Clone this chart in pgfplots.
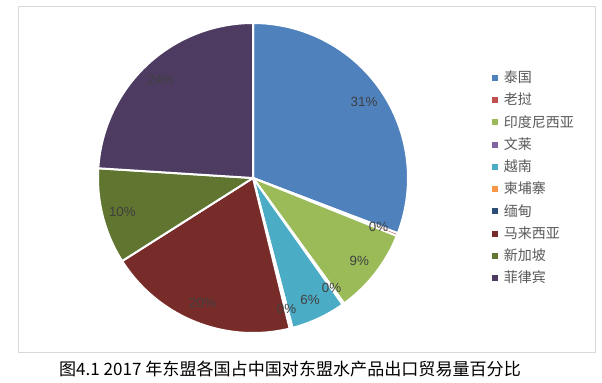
\documentclass[border=0pt]{standalone}
\usepackage{pgfplots}
\pgfplotsset{compat=1.18}
\usepackage{pgfplotstable}
\usepackage{fontspec}
\setmainfont{Liberation Sans}
\newfontfamily\cjk{Noto Sans CJK SC}

\definecolor{s0}{HTML}{4F81BD}
\definecolor{s1}{HTML}{C0504D}
\definecolor{s2}{HTML}{9BBB59}
\definecolor{s3}{HTML}{8064A2}
\definecolor{s4}{HTML}{4BACC6}
\definecolor{s5}{HTML}{F79646}
\definecolor{s6}{HTML}{2C4D75}
\definecolor{s7}{HTML}{772C2A}
\definecolor{s8}{HTML}{5F7530}
\definecolor{s9}{HTML}{4D3B62}
\definecolor{labgray}{HTML}{404040}
\definecolor{leggray}{HTML}{595959}
\definecolor{framegray}{HTML}{D9D9D9}

\pgfplotstableread[col sep=comma]{
name,value
泰国,30.8
老挝,0.3
印度尼西亚,8.9
文莱,0.2
越南,5.7
柬埔寨,0.2
缅甸,0.1
马来西亚,19.8
新加坡,10.0
菲律宾,24.0
}\piedata

\gdef\cumsum{0}
\pgfplotsforeachungrouped \i in {0,...,9}{%
  \pgfplotstablegetelem{\i}{value}\of\piedata
  \edef\curval{\pgfplotsretval}%
  \expandafter\xdef\csname val\i\endcsname{\curval}%
  \pgfmathsetmacro\aa{\cumsum*3.6}%
  \pgfmathsetmacro\newcum{\cumsum+\curval}%
  \pgfmathsetmacro\bb{\newcum*3.6}%
  \expandafter\xdef\csname angA\i\endcsname{\aa}%
  \expandafter\xdef\csname angB\i\endcsname{\bb}%
  \xdef\cumsum{\newcum}%
  \pgfplotstablegetelem{\i}{name}\of\piedata
  \expandafter\global\expandafter\let\csname nm\i\endcsname\pgfplotsretval
}

\begin{document}
\begin{tikzpicture}
\useasboundingbox (0pt,0pt) rectangle (451.5pt,-286.5pt);
\fill[white] (0pt,0pt) rectangle (451.5pt,-286.5pt);
\draw[framegray, line width=0.75pt] (13.5pt,-4.5pt) rectangle (446.25pt,-264pt);
\begin{axis}[
  at={(189.75pt,-133.5pt)}, anchor=center,
  width=232.5pt, height=232.5pt, scale only axis,
  xmin=-1, xmax=1, ymin=-1, ymax=1, enlargelimits=false,
  hide axis, clip=false,
  legend image code/.code={\fill[#1,draw=none] (0pt,-2.25pt) rectangle (4.5pt,2.25pt); \path[draw=none,fill=none] (0pt,0pt) -- (8pt,0pt);},
  legend cell align=left,
  legend style={at={(1.27,0.5)}, anchor=west, draw=none, fill=none, inner sep=0pt,
    font=\cjk\fontsize{10.5}{12}\selectfont, text=leggray, row sep=4.7pt,
    nodes={inner sep=1pt, text height=8.5pt, text depth=1.5pt}},
]
\pgfplotsinvokeforeach{0,...,9}{
  \edef\da{\csname angA#1\endcsname}%
  \edef\db{\csname angB#1\endcsname}%
  \addplot[fill=s#1, draw=white, line width=1.5pt, line join=round,
    domain=\da:\db, samples=60, variable=\t]
    ({sin(\t)},{cos(\t)}) -- (axis cs:0,0) -- cycle;
  \addlegendentry{\csname nm#1\endcsname}
}
\pgfplotsinvokeforeach{0,...,9}{
  \ifnum#1=6\relax\else
    \edef\da{\csname angA#1\endcsname}%
    \edef\db{\csname angB#1\endcsname}%
    \pgfmathsetmacro\mid{(\da+\db)/2}%
    \pgfmathsetmacro\lx{0.87*sin(\mid)}%
    \pgfmathsetmacro\ly{0.87*cos(\mid)}%
    \edef\vv{\csname val#1\endcsname}%
    \pgfmathtruncatemacro\pct{round(\vv)}%
    \edef\temp{\noexpand\node[font=\noexpand\fontsize{10}{12}\noexpand\selectfont, text=labgray] at (axis cs:\lx,\ly) {\pct\noexpand\%};}%
    \temp
  \fi
}
\end{axis}
\node[font=\cjk\fontsize{12.8}{14}\selectfont, text=black] at (217.5pt,-276.75pt) {图4.1 2017 年东盟各国占中国对东盟水产品出口贸易量百分比};
\end{tikzpicture}
\end{document}
